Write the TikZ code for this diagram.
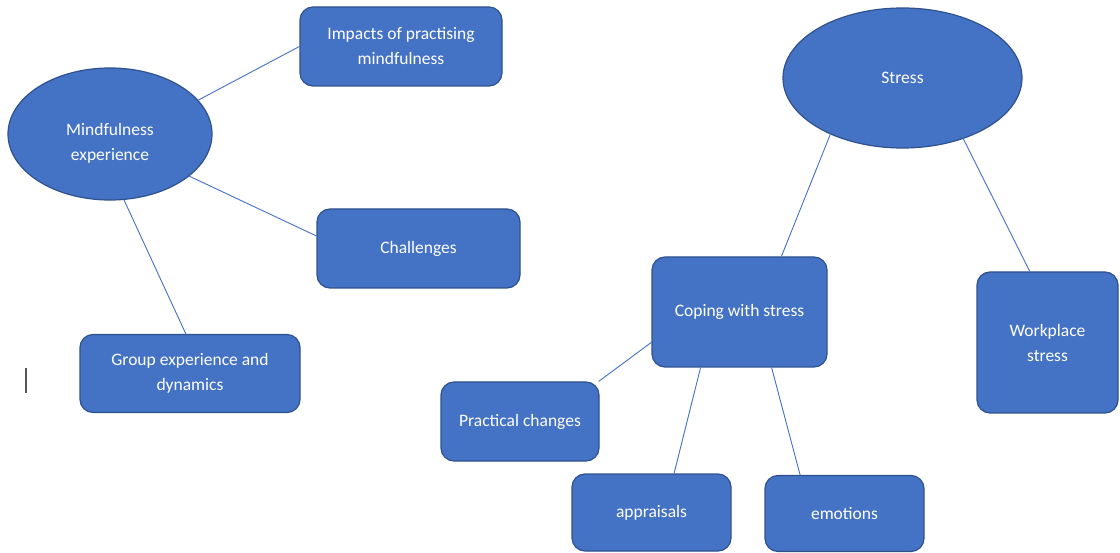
\documentclass[tikz,border=0pt]{standalone}
\usepackage{fontspec}
\setmainfont{Carlito}
\usetikzlibrary{shapes.geometric}
\definecolor{boxfill}{HTML}{4472C4}
\definecolor{boxline}{HTML}{2F528F}
\definecolor{caret}{HTML}{555555}
\begin{document}
\begin{tikzpicture}[x=1pt,y=-1pt,
  txt/.style={text=white,font=\fontsize{17.5}{25}\selectfont,align=center},
  every node/.style={txt},
  oval/.style={ellipse,fill=boxfill,draw=boxline,line width=1.2pt,inner sep=0pt},
  rbox/.style={rectangle,rounded corners=13pt,fill=boxfill,draw=boxline,line width=1.2pt,inner sep=0pt},
  link/.style={draw=boxfill,line width=0.9pt}]
\useasboundingbox[fill=white] (0,0) rectangle (1120,553);
% left cluster
\node[oval,minimum width=204pt,minimum height=132pt,
  label={[txt,yshift=-9pt]center:Mindfulness\\experience}] (mind) at (110,134) {};
\node[rbox,minimum width=202pt,minimum height=79pt] (imp) at (401,46.5) {Impacts of practising\\mindfulness};
\node[rbox,minimum width=203pt,minimum height=79pt] (chal) at (418.5,248.5) {Challenges};
\node[rbox,minimum width=220pt,minimum height=78pt] (grp) at (190,373.5) {Group experience and\\dynamics};
% right cluster
\node[oval,minimum width=239pt,minimum height=140pt] (stress) at (902.5,78) {Stress};
\node[rbox,minimum width=141pt,minimum height=141pt] (work) at (1047.5,342.5) {Workplace\\stress};
\node[rbox,minimum width=175pt,minimum height=110pt] (cope) at (739.5,312) {Coping with stress};
\node[rbox,minimum width=158pt,minimum height=79pt] (prac) at (520,421.5) {Practical changes};
\node[rbox,minimum width=159pt,minimum height=77pt] (appr) at (651.5,512.5) {appraisals};
\node[rbox,minimum width=159pt,minimum height=76pt] (emo) at (844.5,513.5) {emotions};
% connectors
\draw[link] (mind.21) -- (imp.west);
\draw[link] (mind.-28.4) -- (chal.173.5);
\draw[link] (mind.-78.8) -- (grp.96);
\draw[link] (stress.218.6) -- (cope.53.6);
\draw[link] (stress.-45.2) -- (work.104);
\draw[link] (cope.199.3) -- (prac.27.5);
\draw[link] (cope.235) -- (appr.60.8);
\draw[link] (cope.-60.2) -- (emo.139.2);
% text cursor
\coordinate (c1) at (26,368);
\coordinate (c2) at (26,393);
\draw[caret,line width=1.2pt] (c1) -- (c2);
\end{tikzpicture}
\end{document}
